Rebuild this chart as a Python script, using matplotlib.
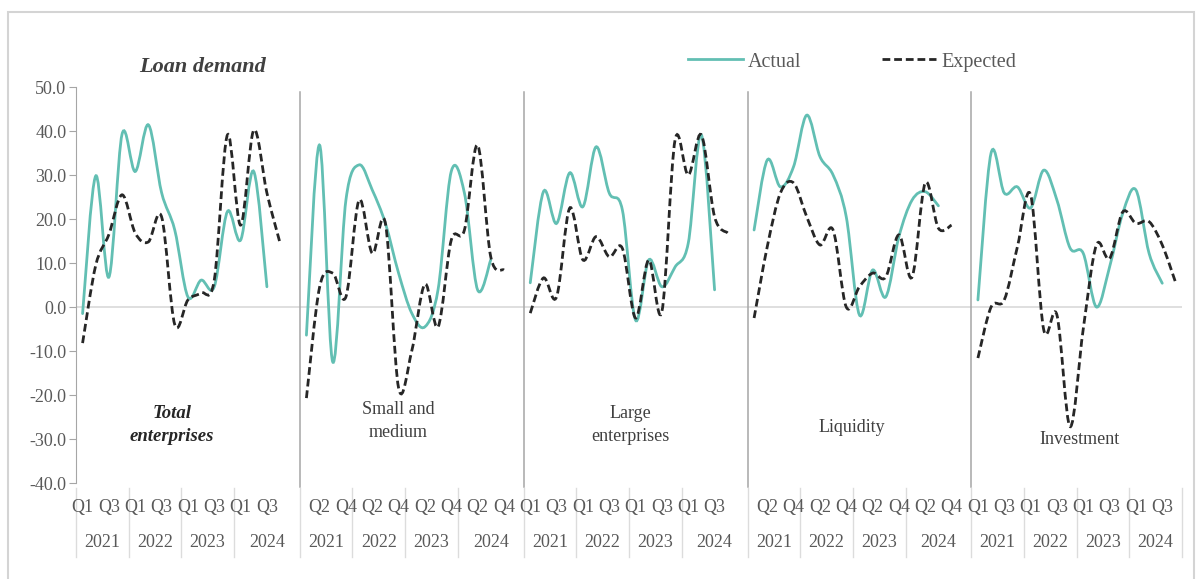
import matplotlib
matplotlib.use("Agg")
import matplotlib.pyplot as plt
from matplotlib.path import Path
from matplotlib.patches import PathPatch, Rectangle
from matplotlib.lines import Line2D
import matplotlib.transforms as mtransforms

plt.rcParams['font.family'] = ['Liberation Serif', 'DejaVu Serif']

# data
panels = ["Total\nenterprises", "Small and\nmedium", "Large\nenterprises", "Liquidity", "Investment"]
years = ["2021", "2022", "2023", "2024"]
quarters = ["Q1", "Q2", "Q3", "Q4"]

actual_total = [-1.5, 29.8, 6.8, 39.3, 30.8, 41.4, 26.0, 17.5, 2.3, 6.1, 4.6, 21.7, 15.2, 30.8, 4.6]
expected_total = [-8.2, 9.5, 16.5, 25.5, 16.8, 14.8, 20.5, -4.0, 1.6, 3.2, 6.1, 39.1, 18.6, 40.2, 25.9, 14.5]

actual_sme = [-6.4, 36.8, -12.5, 24.3, 32.3, 26.6, 19.0, 7.7, -1.4, -4.5, 4.0, 30.8, 25.9, 3.9, 10.7]
expected_sme = [-20.7, 4.5, 7.7, 2.3, 24.3, 12.2, 19.0, -18.4, -10.0, 5.2, -4.5, 15.2, 17.5, 36.8, 11.4, 8.4]

actual_large = [5.5, 26.2, 19.0, 30.5, 22.8, 36.4, 25.9, 22.0, -3.0, 10.7, 4.6, 9.1, 14.5, 39.1, 3.9]
expected_large = [-1.4, 6.6, 2.3, 22.5, 10.7, 16.0, 11.4, 13.3, -2.5, 10.7, -1.0, 38.0, 30.0, 39.1, 20.5, 16.8]

actual_liq = [17.5, 33.4, 27.3, 31.9, 43.6, 34.2, 30.0, 20.5, -1.8, 8.4, 2.3, 16.0, 24.3, 26.2, 23.0]
expected_liq = [-2.5, 13.7, 25.9, 28.2, 20.5, 14.1, 17.5, 0.0, 4.6, 7.7, 6.8, 16.4, 6.8, 28.2, 17.9, 18.6]

actual_inv = [1.6, 35.0, 25.9, 27.3, 22.5, 31.1, 24.3, 13.4, 12.2, 0.0, 9.1, 21.3, 26.6, 12.2, 5.4]
expected_inv = [-11.6, 0.0, 1.6, 13.7, 25.5, -5.2, -1.8, -27.2, -5.0, 14.1, 11.0, 21.6, 19.0, 19.4, 14.1, 5.7]

actual = [actual_total, actual_sme, actual_large, actual_liq, actual_inv]
expected = [expected_total, expected_sme, expected_large, expected_liq, expected_inv]

TEAL = "#62bfb3"
DARK = "#262626"
GREY = "#595959"


def smooth_path(xs, ys):
    # excel style smoothed line (bezier through every point)
    pts = list(zip(xs, ys))
    verts = [pts[0]]
    codes = [Path.MOVETO]
    for i in range(len(pts) - 1):
        p0 = pts[i - 1] if i > 0 else pts[i]
        p1 = pts[i]
        p2 = pts[i + 1]
        p3 = pts[i + 2] if i + 2 < len(pts) else pts[i + 1]
        c1 = (p1[0] + (p2[0] - p0[0]) / 6, p1[1] + (p2[1] - p0[1]) / 6)
        c2 = (p2[0] - (p3[0] - p1[0]) / 6, p2[1] - (p3[1] - p1[1]) / 6)
        verts += [c1, c2, p2]
        codes += [Path.CURVE4] * 3
    return Path(verts, codes)


W, H = 1197, 579
fig = plt.figure(figsize=(W / 100, H / 100), dpi=100)

# outer frame
fig.patches.append(Rectangle((8 / W, -0.05), (1194 - 8) / W, 1.05 - 12 / H,
                             transform=fig.transFigure, fill=False,
                             edgecolor="#d4d4d4", lw=1.5))

ax = fig.add_axes([76 / W, (H - 483) / H, (1182 - 76) / W, (483 - 87) / H])
ax.set_xlim(-0.5, 83.5)
ax.set_ylim(-40, 50)

for s in ["top", "right", "bottom"]:
    ax.spines[s].set_visible(False)
ax.spines["left"].set_color("#a6a6a6")
ax.set_yticks(range(-40, 51, 10))
ax.set_yticklabels([f"{v:.1f}" for v in range(-40, 51, 10)])
ax.tick_params(axis="y", colors="#a6a6a6", labelcolor=GREY, labelsize=13, length=5,
               direction="out", pad=2)
ax.set_xticks([])
ax.axhline(0, color="#d9d9d9", lw=1.2, zorder=1)

trans = mtransforms.blended_transform_factory(ax.transData, ax.transAxes)

for p in range(5):
    start = p * 17
    xa = [start + i for i in range(len(actual[p]))]
    xe = [start + i for i in range(len(expected[p]))]
    ax.add_patch(PathPatch(smooth_path(xa, actual[p]), fill=False, edgecolor=TEAL,
                           lw=2.0, zorder=3, capstyle="round"))
    ax.add_patch(PathPatch(smooth_path(xe, expected[p]), fill=False, edgecolor=DARK,
                           lw=2.0, linestyle=(0, (2.8, 1.4)), zorder=4))

    # panel separator
    if p > 0:
        ax.plot([start - 0.5, start - 0.5], [0.987, -0.01], transform=trans,
                color="#a6a6a6", lw=1.1, clip_on=False)

    # category labels
    for i in range(16):
        g = start + i
        if g % 2 == 0:
            ax.text(g, -0.063, quarters[i % 4], transform=trans, ha="center", va="center",
                    fontsize=13, color=GREY, clip_on=False)
    for y in range(4):
        if y < 3:
            cx = start + y * 4 + 1.5
        else:
            cx = start + 14 if p < 4 else start + 13.5
        ax.text(cx, -0.149, years[y], transform=trans, ha="center", va="center",
                fontsize=13, color=GREY, clip_on=False)
        ax.plot([start + y * 4 - 0.5] * 2, [-0.012, -0.188], transform=trans,
                color="#dcdcdc", lw=1.0, clip_on=False)
ax.plot([83.5] * 2, [-0.012, -0.188], transform=trans, color="#dcdcdc", lw=1.0, clip_on=False)

# panel names
label_pos = [(172, 425), (398, 421), (630, 425), (852, 427), (1080, 440)]
for k, (name, (px, py)) in enumerate(zip(panels, label_pos)):
    if k == 0:
        fig.text(px / W, 1 - py / H, name, ha="center", va="center", fontsize=13.5,
                 fontweight="bold", fontstyle="italic", color="#262626", linespacing=1.45)
    else:
        fig.text(px / W, 1 - py / H, name, ha="center", va="center", fontsize=13,
                 color="#404040", linespacing=1.45)

fig.text(203 / W, 1 - 67 / H, "Loan demand", ha="center", va="center", fontsize=16,
         fontweight="bold", fontstyle="italic", color="#404040")

handles = [Line2D([], [], color=TEAL, lw=2.0),
           Line2D([], [], color=DARK, lw=2.0, linestyle=(0, (2.8, 1.4)))]
fig.legend(handles, ["Actual", "Expected"], loc="center", bbox_to_anchor=(852 / W, 1 - 62 / H),
           ncol=2, frameon=False, fontsize=14.5, handlelength=2.7, handletextpad=0.25,
           columnspacing=4.0, labelcolor=GREY)

fig.savefig("out.png", dpi=100)
